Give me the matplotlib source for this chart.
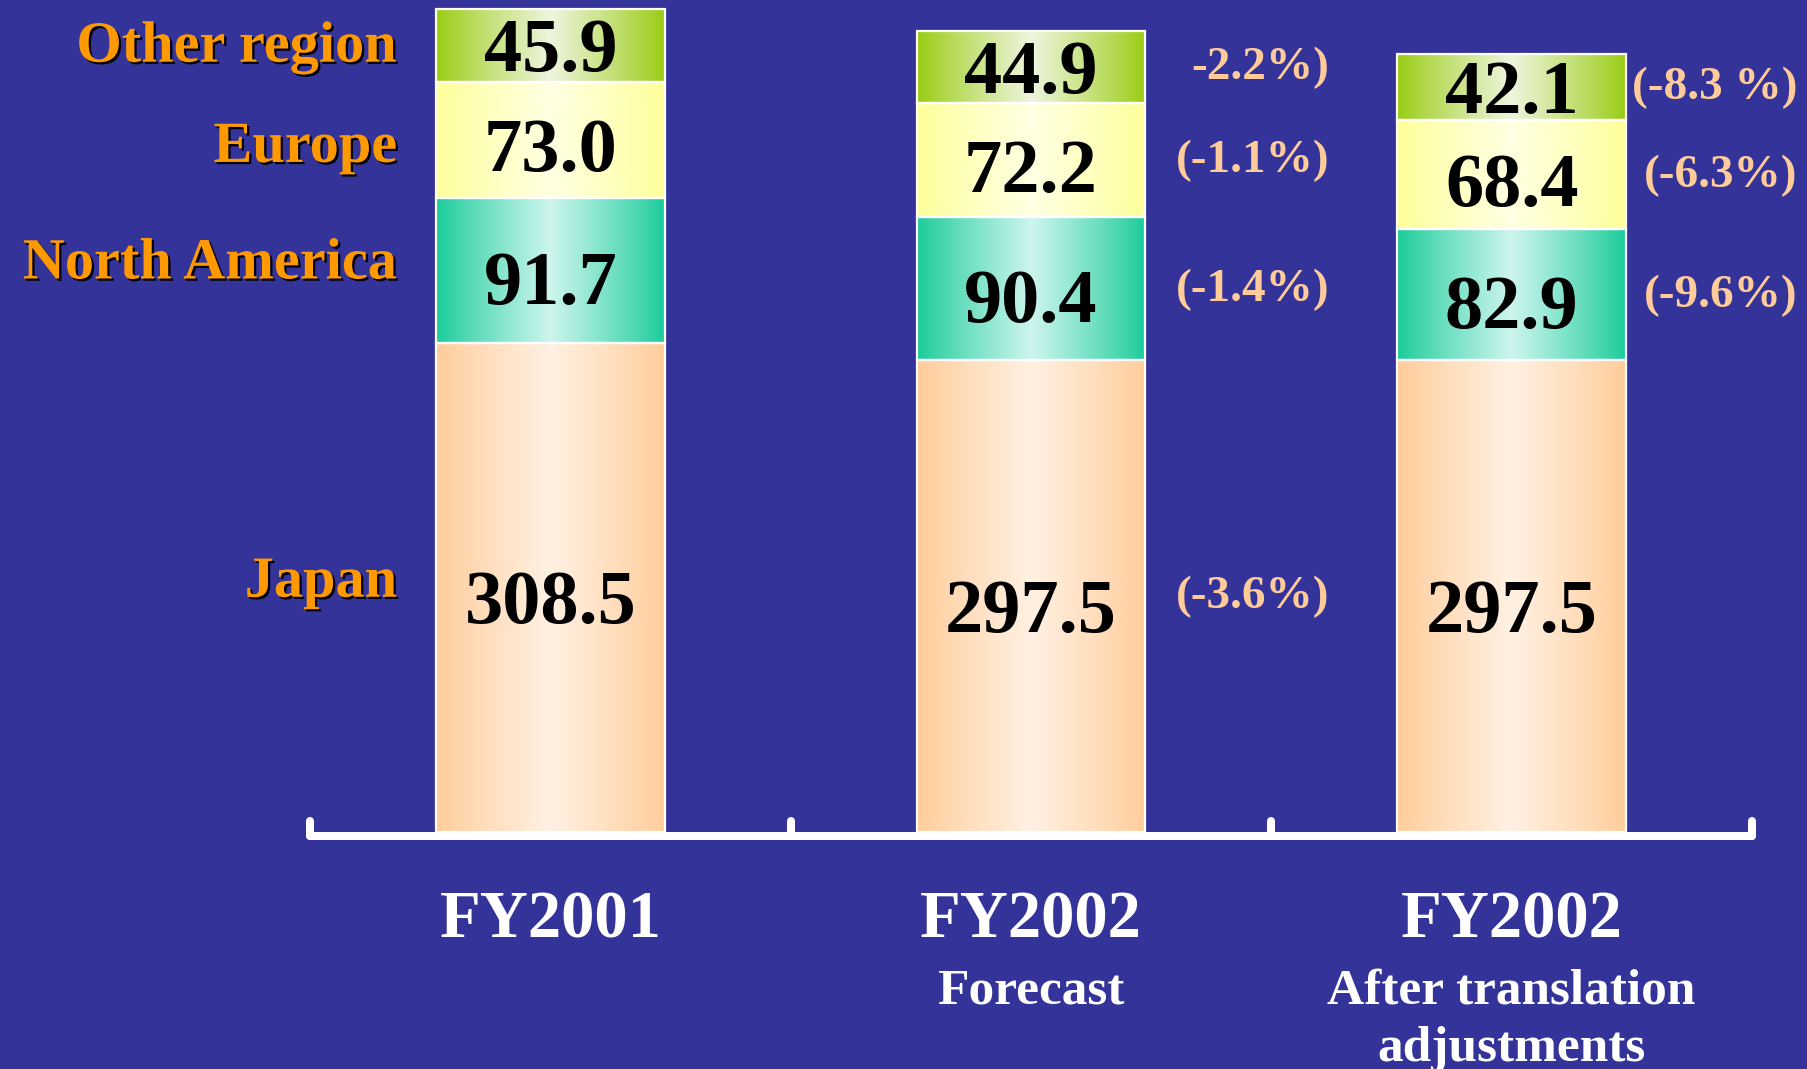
import matplotlib
matplotlib.use("Agg")
import numpy as np
import matplotlib.pyplot as plt
from matplotlib import patheffects as pe
from matplotlib.transforms import offset_copy, blended_transform_factory

# ---- data -------------------------------------------------------------
categories = ["FY2001", "FY2002", "FY2002"]
subtitles = [[], ["Forecast"], ["After translation", "adjustments"]]
regions = ["Japan", "North America", "Europe", "Other region"]

japan = [308.5, 297.5, 297.5]
north_america = [91.7, 90.4, 82.9]
europe = [73.0, 72.2, 68.4]
other_region = [45.9, 44.9, 42.1]

# change versus FY2001 written next to each segment
japan_change = ["", "(-3.6%)", ""]
north_america_change = ["", "(-1.4%)", "(-9.6%)"]
europe_change = ["", "(-1.1%)", "(-6.3%)"]
other_region_change = ["", "-2.2%)", "(-8.3 %)"]

# ---- style ------------------------------------------------------------
W, H, DPI = 1807, 1069, 100
BG = "#333399"
SERIF = ["Liberation Serif", "DejaVu Serif"]
# (edge colour, centre colour) for each region's horizontal shading
shades = {
    "Japan": ("#FFCC99", "#FFF1E3"),
    "North America": ("#19CC99", "#CDF5EE"),
    "Europe": ("#FFFF99", "#FFFFE3"),
    "Other region": ("#99CC11", "#EEF5DE"),
}
# vertical nudges (pixels, downward) for the region names and the value labels
name_nudge = {"Japan": -10, "North America": -11, "Europe": 3, "Other region": -3}
value_nudge = {"Japan": 10, "North America": 8, "Europe": 6, "Other region": 0}
# right edge of the percentage column, relative to each bar centre
pct_offset = [0.6, 0.62, 0.595]

series = [japan, north_america, europe, other_region]
changes = [japan_change, north_america_change, europe_change, other_region_change]

fig = plt.figure(figsize=(W / DPI, H / DPI), dpi=DPI, facecolor=BG)
base_px = 832  # pixel row of the baseline, measured from the top
ax = fig.add_axes([310 / W, (H - base_px) / H, 1442 / W, base_px / H])
ax.set_facecolor("none")
ax.axis("off")

x = np.arange(len(categories))
bar_w = 0.476
totals = np.sum(series, axis=0)
ymax = totals.max() * base_px / (base_px - 9)
px_per_unit = base_px / ymax
PT = 72 / DPI  # points per pixel


def to_rgb(c):
    return np.array(matplotlib.colors.to_rgb(c))


def gradient_fill(patch, edge, centre, n=256):
    u = np.linspace(0, 1, n)
    prof = (1 - np.abs(2 * u - 1)) ** 0.9
    e, c = to_rgb(edge), to_rgb(centre)
    img = (e[None, :] + (c - e)[None, :] * prof[:, None])[None, :, :]
    bb = patch.get_bbox()
    im = ax.imshow(img, extent=(bb.x0, bb.x1, bb.y0, bb.y1), aspect="auto",
                   interpolation="bilinear", zorder=1)
    im.set_clip_path(patch)


bottom = np.zeros(len(categories))
centres = []
for name, vals in zip(regions, series):
    bars = ax.bar(x, vals, bar_w, bottom=bottom, facecolor="none",
                  edgecolor="white", linewidth=1.6, zorder=2)
    for patch in bars:
        gradient_fill(patch, *shades[name])
    centres.append(bottom + np.array(vals) / 2)
    bottom = bottom + np.array(vals)

# value labels inside the segments
val_size = 55
for name, vals, cy in zip(regions, series, centres):
    for xi, v, yc in zip(x, vals, cy):
        tr = offset_copy(ax.transData, fig=fig, x=0,
                         y=-0.338 * val_size - value_nudge[name] * PT, units="points")
        ax.text(xi, yc, f"{v:.1f}", transform=tr, ha="center", va="baseline",
                fontsize=val_size, fontweight="bold", family=SERIF, color="black", zorder=3)

# percentage changes to the right of the bars
pct_size = 34
for chg, cy in zip(changes, centres):
    for xi, s, yc, off in zip(x, chg, cy, pct_offset):
        if not s:
            continue
        tr = offset_copy(ax.transData, fig=fig, x=0,
                         y=-0.338 * pct_size + 4 * PT, units="points")
        ax.text(xi + off, yc, s, transform=tr, ha="right", va="baseline",
                fontsize=pct_size, fontweight="bold", family=SERIF, color="#FFCC99",
                zorder=3, clip_on=False)

# region names to the left of the first bar
reg_size = 42
shadow = [pe.withSimplePatchShadow(offset=(1.6, -1.6), shadow_rgbFace="black", alpha=1.0)]
for name, cy in zip(regions, centres):
    tr = offset_copy(ax.transData, fig=fig, x=0,
                     y=-0.331 * reg_size - name_nudge[name] * PT, units="points")
    ax.text(x[0] - bar_w / 2 - 0.08, cy[0], name, transform=tr, ha="right", va="baseline",
            fontsize=reg_size, fontweight="bold", family=SERIF, color="#FF9900",
            path_effects=shadow, zorder=3, clip_on=False)

# baseline with tick marks between categories
line_y = -4 / px_per_unit
tick_top = 11 / px_per_unit
lw = 8 * PT
ax.plot([-0.5, len(categories) - 0.5], [line_y, line_y], color="white", lw=lw,
        solid_capstyle="round", zorder=4, clip_on=False)
for tx in np.arange(-0.5, len(categories), 1.0):
    ax.plot([tx, tx], [line_y, tick_top], color="white", lw=lw,
            solid_capstyle="round", zorder=4, clip_on=False)

# category labels under the axis
xt = blended_transform_factory(ax.transData, ax.transAxes)


def ax_y(px_from_top):
    return (base_px - px_from_top) / base_px


for xi, cat, subs in zip(x, categories, subtitles):
    ax.text(xi, ax_y(937), cat, transform=xt, ha="center", va="baseline",
            fontsize=48, fontweight="bold", family=SERIF, color="white", clip_on=False)
    for k, s in enumerate(subs):
        ax.text(xi, ax_y(1004 + 57 * k), s, transform=xt, ha="center", va="baseline",
                fontsize=37, fontweight="bold", family=SERIF, color="white", clip_on=False)

ax.set_xlim(-0.5, len(categories) - 0.5)
ax.set_ylim(0, ymax)

fig.savefig("out.png", dpi=DPI, facecolor=BG)
